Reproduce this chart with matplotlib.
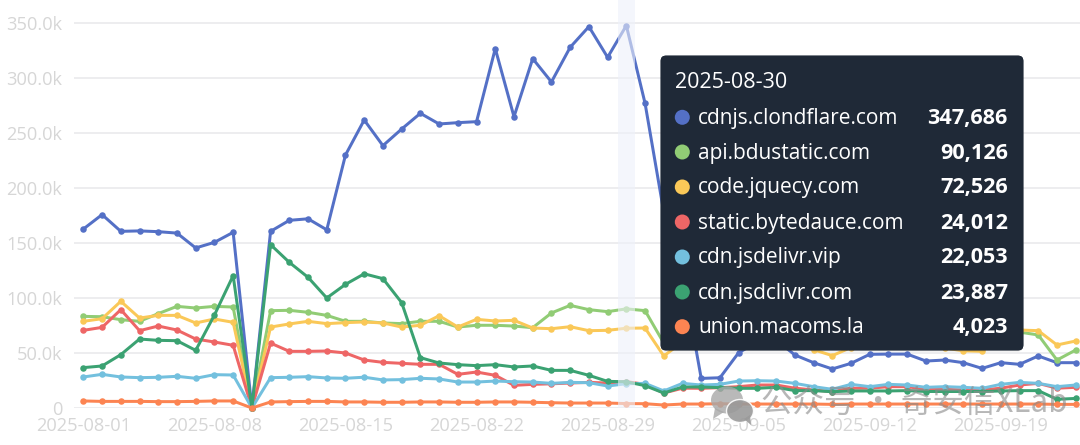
import matplotlib
matplotlib.use("Agg")
import matplotlib.pyplot as plt
from matplotlib.patches import FancyBboxPatch, Ellipse, Polygon, Circle
import matplotlib.patheffects as pe
import pandas as pd

W, H = 1080, 445
plt.rcParams['font.family'] = ['Open Sans', 'DejaVu Sans']

dates = pd.date_range('2025-08-01', periods=54).strftime('%Y-%m-%d').tolist()
tick_labels = ['2025-08-01', '2025-08-08', '2025-08-15', '2025-08-22', '2025-08-29',
               '2025-09-05', '2025-09-12', '2025-09-19']
y_ticks = [0, 50, 100, 150, 200, 250, 300, 350]

cdnjs = [162.7, 175.8, 160.6, 161, 160.3, 159, 145.5, 150.6, 159.7, 0, 160.6, 170.6, 172, 162, 230,
         261.8, 238.5, 253.6, 267.9, 258.2, 259.4, 260.3, 326.7, 264.8, 317.6, 296.4, 327.9, 346.7,
         318.8, 347.686, 277, 178, 122, 26.9, 27.5, 50.3, 60, 62, 48.2, 41.2, 35.5, 40.6, 48.8, 49,
         49, 42.7, 43.6, 41.2, 36, 41.2, 39.7, 47.3, 41.2, 41.2]
bdustatic = [83.3, 83, 80.3, 78.8, 85.8, 92.4, 90.9, 92.4, 91.8, 0, 88.5, 88.8, 87, 84.2, 78.8,
             78.8, 77.3, 76.7, 78.8, 78.8, 73.6, 75.2, 75.2, 74.5, 73, 86.4, 93.3, 89.4, 87.6,
             90.126, 88.5, 59, 62, 66, 68, 70, 70, 68, 66, 62, 58, 60, 66, 68, 68, 66, 64, 62, 64,
             68, 69, 66.4, 43.6, 52.7]
jquecy = [78.8, 81.2, 97, 81.8, 84.2, 84.2, 77.3, 80.9, 77.9, 0, 73.6, 76.4, 78.8, 76.7, 77.6,
          78.2, 77.3, 73.6, 75.2, 83.9, 73.6, 80.6, 79.1, 79.7, 72.7, 72.1, 73.9, 70.3, 70.6,
          72.526, 72.7, 47.3, 60, 64, 64, 66, 66, 64, 60, 53, 47.6, 55, 62, 64, 60, 56, 54.5, 52,
          51.5, 66, 70.9, 70.3, 57.3, 60.9]
bytedauce = [70.6, 73.3, 89.4, 70.3, 74.5, 70.9, 62.7, 60, 57, 0, 59, 51.5, 51.5, 51.8, 50,
             43.6, 41.5, 40.6, 39.7, 39.7, 30.6, 32.7, 29.7, 20.6, 21.5, 22, 22.7, 23.3, 22.7,
             24.012, 21.5, 13.6, 18, 17.9, 18.5, 19.4, 20.9, 20.9, 18, 16.4, 14.8, 18, 18, 19.4,
             19.4, 17, 17, 16.4, 16.4, 18, 20.9, 22.4, 18, 18.8]
jsdelivr = [28.2, 30.6, 28.2, 27.6, 27.9, 28.8, 27, 30.3, 30, 0, 27.6, 27.9, 28.5, 27.3, 27,
            28, 25.5, 25.8, 27, 26.4, 23.6, 23.6, 24.5, 23.9, 23.6, 22.4, 23.3, 23, 20,
            22.053, 22.4, 15.5, 22.4, 20.9, 21.5, 24.5, 24.8, 24.5, 22.4, 19.4, 17, 21.5, 19.4,
            21.5, 20.9, 18.8, 19.4, 18.8, 17.9, 21.5, 23.3, 22.4, 19.4, 20.9]
jsdclivr = [36.7, 38.2, 48.5, 62.7, 61.5, 61.2, 52.4, 84.5, 120.3, 0, 148.5, 132.4, 118.8, 100, 112.4,
            122, 117.6, 95.8, 45.8, 40.9, 39.4, 38.5, 39.4, 37.3, 38.2, 34.2, 34.2, 29.7, 24.2,
            23.887, 20.3, 13.6, 19.1, 19.1, 18.5, 17.9, 17.9, 18.8, 15.8, 15.8, 14.8, 15.5, 15.5,
            15.5, 15.8, 15, 15, 15, 15, 15.5, 15.8, 15.8, 7.9, 8.7]
macoms = [6.4, 6, 6, 6, 5.8, 5.8, 6, 6.4, 6.4, 0, 5.5, 5.8, 6, 6, 5.5,
          5.5, 5.2, 5.2, 5.5, 5.5, 5.2, 5.2, 5.5, 5.5, 5.2, 4.8, 4.5, 4.5, 4.5,
          4.023, 3.9, 2.7, 3.6, 3.6, 3.9, 3.6, 3.6, 3.6, 3.6, 3.6, 3.3, 3.6, 3.6, 3.6,
          3.6, 3.6, 3.6, 3.6, 3.6, 3.6, 3.6, 3.6, 3.3, 3.3]

names = ['cdnjs.clondflare.com', 'api.bdustatic.com', 'code.jquecy.com', 'static.bytedauce.com',
         'cdn.jsdelivr.vip', 'cdn.jsdclivr.com', 'union.macoms.la']
series = [cdnjs, bdustatic, jquecy, bytedauce, jsdelivr, jsdclivr, macoms]
colors = ['#5470C6', '#91CC75', '#FAC858', '#EE6666', '#73C0DE', '#3BA272', '#FC8452']
tip_date = '2025-08-30'
tip_values = ['347,686', '90,126', '72,526', '24,012', '22,053', '23,887', '4,023']

px = 0.72  # points per pixel at dpi 100
fig = plt.figure(figsize=(W / 100, H / 100), dpi=100, facecolor='white')
ax = fig.add_axes([74 / W, (H - 408) / H, (W - 74) / W, 408 / H])
xs = list(range(len(dates)))
ax.set_xlim(-0.5, 53.23)
ax.set_ylim(0, 408 / 1.1)
for s in ax.spines.values():
    s.set_visible(False)
ax.set_yticks(y_ticks)
ax.set_yticklabels(['0'] + [f'{v}.0k' for v in y_ticks[1:]])
ax.set_xticks([dates.index(t) for t in tick_labels])
ax.set_xticklabels(tick_labels)
ax.tick_params(axis='both', length=0, labelsize=18.3 * px, labelcolor='#d6d6d6')
ax.tick_params(axis='y', pad=8.5)
ax.tick_params(axis='x', pad=6.5)
ax.grid(axis='y', color='#e8e8ea', lw=1.5 * px)
ax.set_axisbelow(True)

for vals, c in zip(series, colors):
    ax.plot(xs, vals, color=c, lw=3 * px, marker='o', ms=6.5 * px, mew=0, zorder=3,
            solid_joinstyle='round', clip_on=False)

hi = dates.index(tip_date)
ax.axvspan(hi - 0.47, hi + 0.47, color='#eef1fa', alpha=0.6, lw=0, zorder=4)

# canvas overlay in pixel coordinates, y measured from the top
ov = fig.add_axes([0, 0, 1, 1], facecolor='none')
ov.set_xlim(0, W)
ov.set_ylim(H, 0)
ov.axis('off')

# watermark
wm = '#8c8c8c'
ov.add_patch(Ellipse((727, 400), 32, 27, color='#a8a8a8', alpha=0.8, lw=0, zorder=5))
ov.add_patch(Polygon([[715, 408], [713, 419], [724, 412]], color='#a8a8a8', alpha=0.8, lw=0, zorder=5))
ov.add_patch(Ellipse((740, 411), 27, 23, color='#9a9a9a', alpha=0.9, ec='white', zorder=5))
ov.add_patch(Polygon([[744, 419], [751, 425], [750, 415]], color='#9a9a9a', alpha=0.9, lw=0, zorder=5))
ov.text(761, 403, '公众号 · 奇安信XLab', color=wm, alpha=0.62, fontsize=31.5 * px, va='center', ha='left',
        family=['Noto Sans CJK SC', 'DejaVu Sans'], zorder=6)

# tooltip
box = FancyBboxPatch((665, 60), 354, 286, boxstyle='round,pad=4,rounding_size=5', fc='#1F2937', ec='#1F2937',
                     lw=0.5, zorder=10,
                     path_effects=[pe.withSimplePatchShadow(offset=(0, -1), shadow_rgbFace='#000000', alpha=0.12),
                                   pe.Normal()])
ov.add_patch(box)
ov.text(675, 83, tip_date, color='white', fontsize=21.5 * px, va='center', ha='left', zorder=11)
row_y = [117.3, 152, 187, 222, 257, 292, 326.7]
for y, n, v, c in zip(row_y, names, tip_values, colors):
    ov.add_patch(Circle((682.3, y), 7.5, fc=c, ec='none', zorder=11))
    ov.text(698.3, y + 1, n, color='white', fontsize=20.9 * px, va='center', ha='left', zorder=11)
    ov.text(1007.7, y + 1, v, color='white', fontsize=21.6 * px, va='center', ha='right', fontweight='bold', zorder=11)

fig.savefig('out.png', dpi=100)
